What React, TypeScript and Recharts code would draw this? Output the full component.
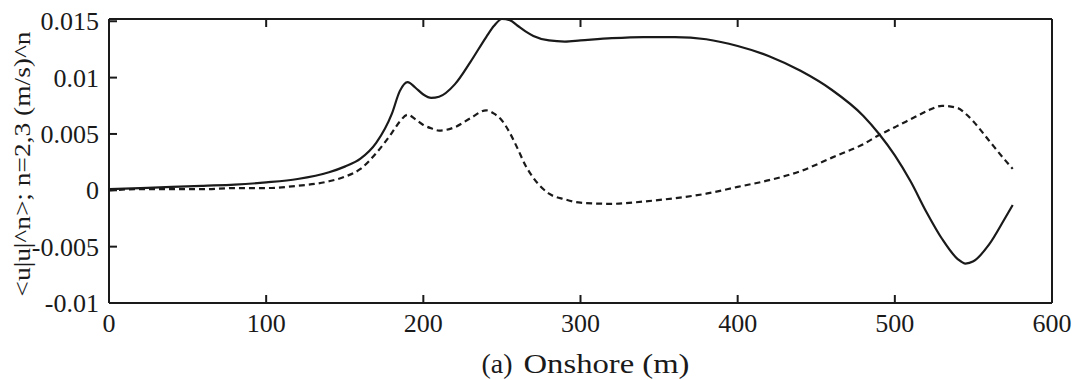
import { LineChart, Line, XAxis, YAxis } from 'recharts'

// onshore distance (m)
const xs = [0, 20, 40, 60, 80, 100, 120, 140, 150, 160, 170, 180, 185, 190, 195, 200, 205, 210, 220, 230, 240, 245, 250, 255, 260, 265, 270, 280, 290, 300, 320, 340, 360, 380, 400, 420, 440, 460, 480, 490, 500, 510, 520, 530, 540, 545, 550, 560, 570, 575]

// n=3 (solid)
const solid = [0.0001, 0.0002, 0.0003, 0.0004, 0.0005, 0.0007, 0.001, 0.0016, 0.0021, 0.0028, 0.0042, 0.0068, 0.0088, 0.0096, 0.0091, 0.0085, 0.0082, 0.0083, 0.0094, 0.0114, 0.0136, 0.0146, 0.0152, 0.0151, 0.0146, 0.0141, 0.0137, 0.0133, 0.0132, 0.0133, 0.0135, 0.0136, 0.0136, 0.0134, 0.0128, 0.0119, 0.0106, 0.0089, 0.0066, 0.005, 0.0031, 0.0008, -0.0019, -0.0043, -0.0061, -0.0065, -0.0063, -0.0048, -0.0025, -0.0013]

// n=2 (dashed)
const dashed = [0, 0.0001, 0.0001, 0.0001, 0.0002, 0.0002, 0.0004, 0.0008, 0.0012, 0.0019, 0.0033, 0.0051, 0.0061, 0.0067, 0.0063, 0.0058, 0.0055, 0.0053, 0.0056, 0.0064, 0.0071, 0.0068, 0.0062, 0.0051, 0.0037, 0.0022, 0.0011, -0.0003, -0.0008, -0.0011, -0.0012, -0.001, -0.0007, -0.0003, 0.0003, 0.0009, 0.0017, 0.0029, 0.0041, 0.0049, 0.0056, 0.0063, 0.007, 0.0075, 0.0073, 0.0068, 0.0061, 0.0044, 0.0027, 0.0019]

const xTicks = [0, 100, 200, 300, 400, 500, 600]
const yTicks = [-0.01, -0.005, 0, 0.005, 0.01, 0.015]

const data = xs.map((x, i) => ({ x, solid: solid[i], dashed: dashed[i] }))

const FONT = '"Liberation Serif", serif'
const INK = '#1a1a1a'
const TICK = 8
const GAP = 10
const axisLine = { stroke: INK, strokeWidth: 2 }
const noLabel = () => <g />

function LeftTick({ x, y, payload }: any) {
  const ax = x + GAP
  return (
    <g>
      <line x1={ax} x2={ax + TICK} y1={y} y2={y} stroke={INK} strokeWidth={2} />
      <text x={x} y={y} dy="0.35em" textAnchor="end" fill={INK} fontSize={26} fontFamily={FONT}>
        {String(payload.value)}
      </text>
    </g>
  )
}

function BottomTick({ x, y, payload }: any) {
  const ay = y - GAP
  return (
    <g>
      <line x1={x} x2={x} y1={ay} y2={ay - TICK} stroke={INK} strokeWidth={2} />
      <text x={x} y={ay + 29} textAnchor="middle" fill={INK} fontSize={26} fontFamily={FONT}>
        {String(payload.value)}
      </text>
    </g>
  )
}

function XLabel({ viewBox }: any) {
  const cx = viewBox.x + viewBox.width / 2
  return (
    <g fill={INK} fontFamily={FONT} fontSize={28}>
      <text x={cx - 99} y={373} textLength={31} lengthAdjust="spacingAndGlyphs">(a)</text>
      <text x={cx - 57} y={373} textLength={166} lengthAdjust="spacingAndGlyphs">Onshore (m)</text>
    </g>
  )
}

function YLabel({ viewBox }: any) {
  const cy = viewBox.y + viewBox.height / 2
  return (
    <text
      x={30}
      y={cy + 3}
      transform={`rotate(-90 30 ${cy + 3})`}
      textAnchor="middle"
      fill={INK}
      fontFamily={FONT}
      fontSize={24}
      textLength={265}
      lengthAdjust="spacingAndGlyphs"
    >
      {'<u|u|^n>; n=2,3 (m/s)^n'}
    </text>
  )
}

export default function App() {
  return (
    <div style={{ position: 'absolute', left: 0, top: 0, background: '#fff' }}>
      <LineChart width={1081} height={380} data={data} margin={{ top: 19, right: 29, bottom: 0, left: 0 }}>
        <XAxis
          xAxisId="b"
          dataKey="x"
          type="number"
          domain={[0, 600]}
          ticks={xTicks}
          height={77}
          axisLine={axisLine}
          tickLine={false}
          tickSize={0}
          tickMargin={GAP}
          tick={<BottomTick />}
          interval={0}
          label={<XLabel />}
        />
        <XAxis
          xAxisId="t"
          orientation="top"
          mirror
          dataKey="x"
          type="number"
          domain={[0, 600]}
          ticks={xTicks}
          axisLine={axisLine}
          tickLine={{ stroke: INK, strokeWidth: 2 }}
          tickSize={TICK}
          tick={noLabel}
          interval={0}
        />
        <YAxis
          yAxisId="l"
          type="number"
          domain={[-0.01, 0.015]}
          ticks={yTicks}
          width={109}
          axisLine={axisLine}
          tickLine={false}
          tickSize={0}
          tickMargin={GAP}
          tick={<LeftTick />}
          interval={0}
          label={<YLabel />}
        />
        <YAxis
          yAxisId="r"
          orientation="right"
          mirror
          type="number"
          domain={[-0.01, 0.015]}
          ticks={yTicks}
          axisLine={axisLine}
          tickLine={{ stroke: INK, strokeWidth: 2 }}
          tickSize={TICK}
          tick={noLabel}
          interval={0}
        />
        <Line
          xAxisId="b"
          yAxisId="l"
          dataKey="solid"
          type="monotone"
          stroke={INK}
          strokeWidth={2.2}
          dot={false}
          isAnimationActive={false}
        />
        <Line
          xAxisId="b"
          yAxisId="l"
          dataKey="dashed"
          type="monotone"
          stroke={INK}
          strokeWidth={2.2}
          strokeDasharray="6 4"
          dot={false}
          isAnimationActive={false}
        />
      </LineChart>
    </div>
  )
}
